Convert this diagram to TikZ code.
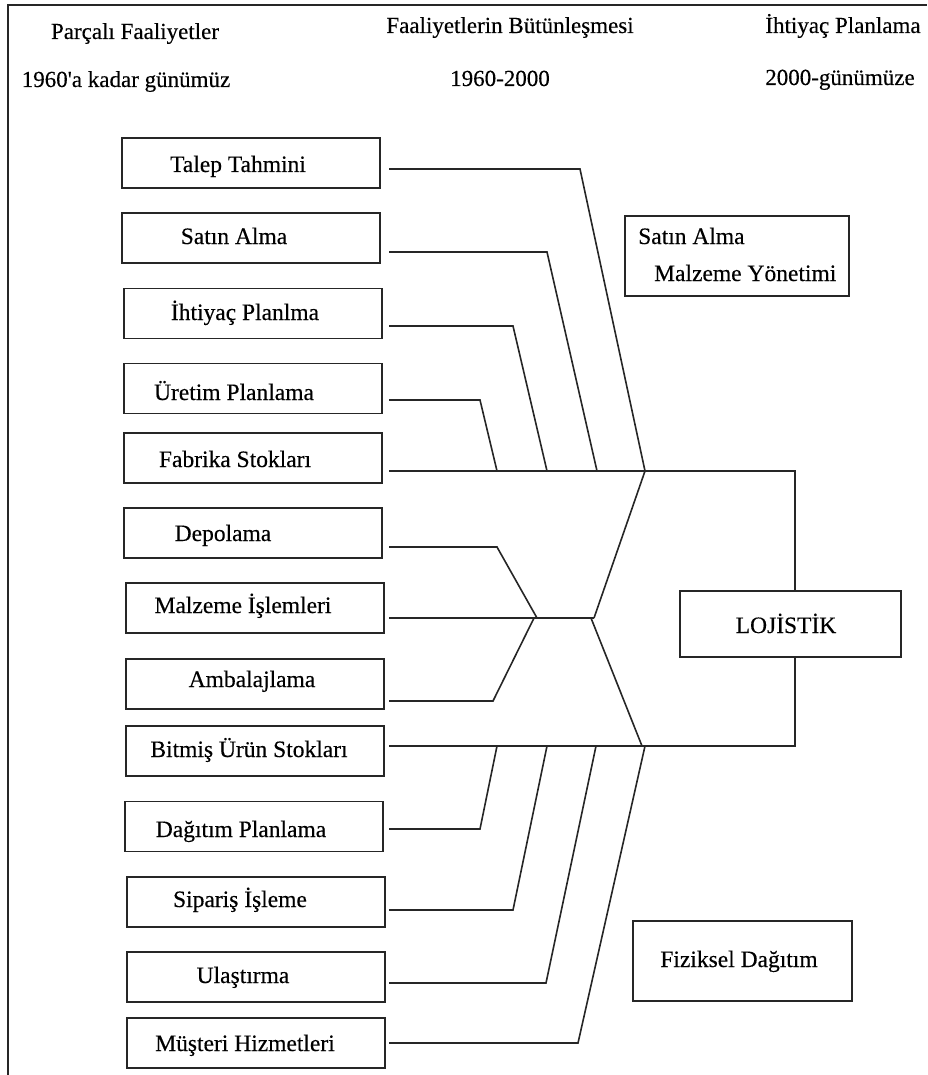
\documentclass[tikz,border=0pt]{standalone}
\usepackage{fontspec}
\setmainfont{Liberation Serif}[FakeBold=0.35]
\newfontfamily\mainbold{Liberation Serif}[FakeBold=0.35]
\begin{document}
\begin{tikzpicture}[x=1pt,y=-1pt,
  box/.style={draw=black!85, line width=1.6pt, minimum width=258pt, minimum height=50pt, inner sep=0pt},
  rbox/.style={draw=black!85, line width=1.6pt, inner sep=0pt},
  lbl/.style={font=\mainbold\fontsize{23.5}{28}\selectfont, inner sep=0pt, anchor=base},
  lblw/.style={font=\mainbold\fontsize{23.5}{28}\selectfont, inner sep=0pt, anchor=base west},
  hdr/.style={font=\mainbold\fontsize{23}{28}\selectfont, inner sep=0pt, anchor=base},
  ln/.style={line width=1.6pt, draw=black!85}]
\useasboundingbox (0,0) rectangle (927,1075);
% frame
\draw[ln, line width=1.8pt] (8,1075) -- (8,5) -- (927,5);
% headers
\node[hdr] (h1) at (135,39) {Parçalı Faaliyetler};
\node[hdr] (h2) at (126,87) {1960\char"0027 a kadar günümüz};
\node[hdr] (h3) at (510,33) {Faaliyetlerin Bütünleşmesi};
\node[hdr] (h4) at (500,86) {1960-2000};
\node[hdr] (h5) at (843,33) {İhtiyaç Planlama};
\node[hdr] (h6) at (840,85) {2000-günümüze};
% left boxes
\node[box] (b1) at (251,163) {};
\node[box] (b2) at (251,238) {};
\node[box] (b3) at (253,313.5) {};
\node[box] (b4) at (253,388.5) {};
\node[box] (b5) at (253,458) {};
\node[box] (b6) at (253,533) {};
\node[box] (b7) at (255,608) {};
\node[box] (b8) at (255,684) {};
\node[box] (b9) at (255,751) {};
\node[box] (b10) at (254,826.5) {};
\node[box] (b11) at (256,902) {};
\node[box] (b12) at (256,977) {};
\node[box] (b13) at (256,1043) {};
\node[lbl] (t1) at (238,172) {Talep Tahmini};
\node[lbl] (t2) at (234,244) {Satın Alma};
\node[lbl] (t3) at (245,320) {İhtiyaç Planlma};
\node[lbl] (t4) at (234,400) {Üretim Planlama};
\node[lbl] (t5) at (235,467) {Fabrika Stokları};
\node[lbl] (t6) at (223,541) {Depolama};
\node[lbl] (t7) at (243,613) {Malzeme İşlemleri};
\node[lbl] (t8) at (252,687) {Ambalajlama};
\node[lbl] (t9) at (249,757) {Bitmiş Ürün Stokları};
\node[lbl] (t10) at (241,837) {Dağıtım Planlama};
\node[lbl] (t11) at (240,907) {Sipariş İşleme};
\node[lbl] (t12) at (243,983) {Ulaştırma};
\node[lbl] (t13) at (245,1051) {Müşteri Hizmetleri};
% right boxes
\node[rbox, minimum width=224pt, minimum height=80pt] (sab) at (737,256) {};
\node[lblw] (sa1) at (638,244) {Satın Alma};
\node[lblw] (sa2) at (654,281) {Malzeme Yönetimi};
\node[rbox, minimum width=221pt, minimum height=66pt] (loj) at (790.5,624) {};
\node[lbl] (lt) at (786,633) {LOJİSTİK};
\node[rbox, minimum width=219pt, minimum height=80pt] (fiz) at (742.5,961) {};
\node[lbl] (ft) at (739,967) {Fiziksel Dağıtım};
% coordinates
\coordinate (s1) at (389,169);   \coordinate (e1) at (580,169);
\coordinate (s2) at (389,252);   \coordinate (e2) at (547,252);
\coordinate (s3) at (389,326);   \coordinate (e3) at (513,326);
\coordinate (s4) at (389,400);   \coordinate (e4) at (480,400);
\coordinate (s5) at (389,471);   \coordinate (m5) at (795,471);
\coordinate (j4) at (497,471);   \coordinate (j3) at (547,471);
\coordinate (j2) at (597,471);   \coordinate (j1) at (645,471);
\coordinate (s6) at (389,547);   \coordinate (e6) at (497,547);
\coordinate (s7) at (389,618);   \coordinate (jr) at (594,618);
\coordinate (jl) at (537,618);   \coordinate (jl2) at (534,618);
\coordinate (jr2) at (591,618);
\coordinate (s8) at (389,701);   \coordinate (e8) at (493,701);
\coordinate (s9) at (389,746);   \coordinate (m9) at (795,746);
\coordinate (k1) at (497,746);   \coordinate (k2) at (547,746);
\coordinate (k3) at (596,746);   \coordinate (k4) at (645,746);
\coordinate (kv) at (642,746);
\coordinate (s10) at (389,829);  \coordinate (e10) at (480,829);
\coordinate (s11) at (389,910);  \coordinate (e11) at (513,910);
\coordinate (s12) at (389,983);  \coordinate (e12) at (546,983);
\coordinate (s13) at (389,1043); \coordinate (e13) at (578,1043);
% upper group
\draw[ln] (s1) -- (e1) -- (j1);
\draw[ln] (s2) -- (e2) -- (j2);
\draw[ln] (s3) -- (e3) -- (j3);
\draw[ln] (s4) -- (e4) -- (j4);
\draw[ln] (s5) -- (m5) -- (loj.north -| m5);
\draw[ln] (j1) -- (jr);
% middle group
\draw[ln] (s6) -- (e6) -- (jl);
\draw[ln] (s7) -- (jr);
\draw[ln] (s8) -- (e8) -- (jl2);
\draw[ln] (jr2) -- (kv);
% lower group
\draw[ln] (s9) -- (m9) -- (loj.south -| m9);
\draw[ln] (s10) -- (e10) -- (k1);
\draw[ln] (s11) -- (e11) -- (k2);
\draw[ln] (s12) -- (e12) -- (k3);
\draw[ln] (s13) -- (e13) -- (k4);
\end{tikzpicture}
\end{document}
